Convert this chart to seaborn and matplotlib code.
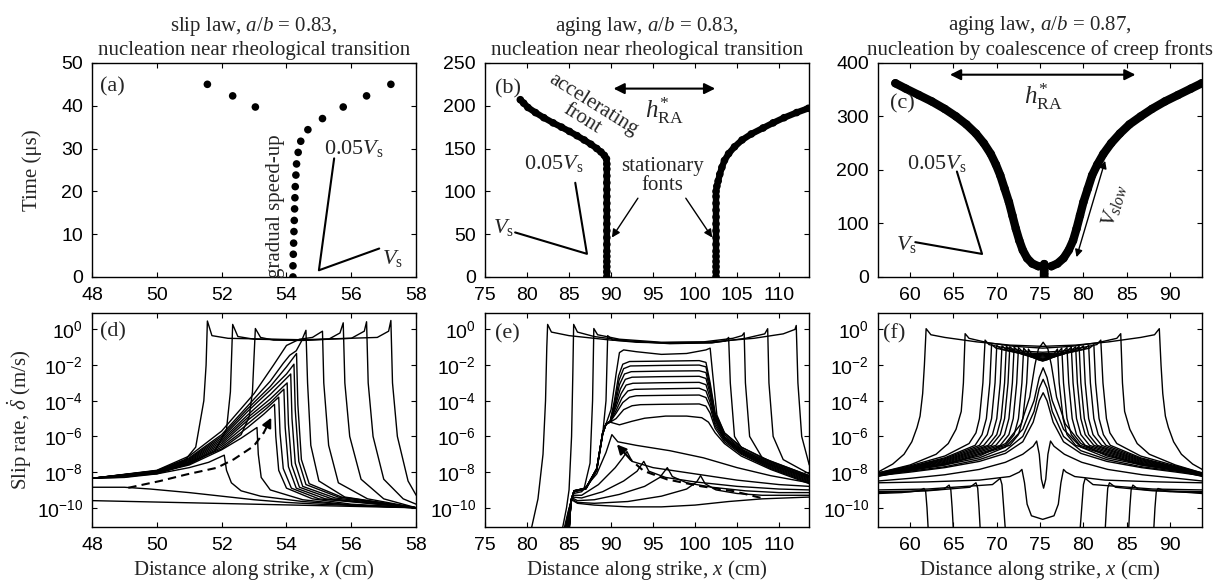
import numpy as np
import pandas as pd
import matplotlib
matplotlib.use("Agg")
import matplotlib.pyplot as plt
import seaborn as sns
from matplotlib.ticker import FixedLocator, FixedFormatter, NullLocator

# ---------------- data ----------------
# (a) slip law: rupture-front time vs position
a_x = [54.20, 54.20, 54.21, 54.22, 54.23, 54.24, 54.25, 54.26, 54.27, 54.29, 54.31, 54.36,
       54.44, 54.66, 55.11, 55.75, 56.47, 57.22, 53.04, 52.34, 51.56]
a_t = [0.0, 2.6, 5.3, 7.9, 10.6, 13.2, 15.9, 18.5, 21.1, 23.8, 26.4, 29.1,
       31.7, 34.4, 37.0, 39.7, 42.3, 45.0, 39.7, 42.3, 45.0]

# (b) aging law a/b=0.83: two fronts
b_left_t = [0, 6, 12, 18, 24, 30, 38, 46, 54, 62, 70, 78, 86, 94, 102, 110, 118, 126, 132, 138,
            142, 146, 150, 155, 160, 165, 170, 175, 180, 186, 192, 198, 203, 207]
b_left_x = [89.5, 89.5, 89.5, 89.5, 89.5, 89.5, 89.5, 89.5, 89.5, 89.5, 89.5, 89.5, 89.5, 89.5,
            89.5, 89.5, 89.5, 89.5, 89.5, 89.45,
            89.2, 88.8, 88.3, 87.6, 86.8, 85.95, 85.05, 84.1, 83.1, 82.0, 81.0, 80.1, 79.6, 79.2]
b_right_t = [0, 6, 12, 18, 24, 30, 38, 46, 54, 62, 70, 78, 86, 94, 100,
             106, 112, 120, 128, 136, 144, 152, 160, 167, 174, 180, 186, 192, 197]
b_right_x = [102.5, 102.5, 102.5, 102.5, 102.5, 102.5, 102.5, 102.5, 102.5, 102.5, 102.5, 102.5,
             102.5, 102.5, 102.5,
             102.6, 102.75, 102.95, 103.2, 103.5, 104.0, 104.7, 105.6, 106.7, 108.1, 109.3,
             110.6, 112.1, 113.5]

# (c) aging law a/b=0.87: coalescence of creep fronts
c_left_x = [58.3, 59.5, 61.0, 62.5, 64.0, 65.3, 66.5, 67.6, 68.5, 69.3, 69.9, 70.4, 70.9, 71.4,
            71.8, 72.2, 72.6, 73.0, 73.5, 74.1, 74.8]
c_left_t = [362, 352, 340, 328, 314, 300, 285, 268, 250, 230, 210, 190, 165, 140,
            115, 90, 68, 50, 35, 25, 20]
c_right_x = [93.65, 92.4, 90.9, 89.4, 87.9, 86.6, 85.3, 84.2, 83.2, 82.3, 81.6, 81.0, 80.5, 80.0,
             79.6, 79.2, 78.8, 78.3, 77.7, 77.0, 76.3]
c_right_t = [362, 352, 340, 328, 314, 300, 285, 268, 250, 230, 210, 190, 165, 140,
             115, 90, 68, 50, 35, 25, 20]
c_mid_x = [75.5, 75.5, 75.5, 75.5, 75.5]
c_mid_t = [0, 6, 12, 18, 24]

# (d) slip-rate profiles, slip law: (x [cm], log10 slip rate [m/s])
d_curves = [
    [(48, -9.6), (50, -9.68), (52, -9.76), (54, -9.84), (56, -9.92), (58, -10.0)],
    [(48, -8.85), (49, -8.85), (49.8, -8.95), (51, -9.15), (52, -9.35), (53, -9.55), (54, -9.7),
     (55, -9.8), (56.5, -9.9), (58, -10.0)],
    [(48, -8.35), (49, -8.3), (50, -8.1), (51, -7.75), (51.6, -7.45), (52.08, -7.05), (52.15, -7.9),
     (52.3, -8.6), (52.6, -9.05), (53.2, -9.35), (54.5, -9.65), (56, -9.85), (58, -10.0)],
    [(48, -8.35), (49, -8.28), (50, -8.05), (51, -7.6), (52, -6.75), (52.6, -6.1), (53.09, -5.5),
     (53.13, -7.0), (53.22, -8.3), (53.5, -9.0), (54.5, -9.55), (56, -9.85), (58, -10.0)],
    [(48, -8.35), (50, -8.02), (51, -7.55), (52, -6.6), (52.8, -5.5), (53.3, -4.75), (53.63, -4.2),
     (53.67, -6.0), (53.76, -7.9), (54.0, -8.9), (54.8, -9.5), (56, -9.8), (58, -10.0)],
    [(48, -8.35), (50, -8.0), (51, -7.5), (52, -6.5), (52.8, -5.3), (53.4, -4.4), (53.76, -3.8),
     (53.8, -5.8), (53.9, -7.8), (54.15, -8.9), (55, -9.5), (58, -10.0)],
    [(48, -8.35), (50, -7.98), (51, -7.45), (52, -6.4), (52.8, -5.1), (53.5, -4.1), (53.92, -3.35),
     (53.96, -5.5), (54.06, -7.7), (54.3, -8.9), (55.2, -9.5), (58, -10.0)],
    [(48, -8.35), (50, -7.96), (51, -7.4), (52, -6.3), (52.8, -4.95), (53.5, -3.9), (54.02, -3.0),
     (54.06, -5.3), (54.16, -7.6), (54.4, -8.85), (55.4, -9.5), (58, -10.0)],
    [(48, -8.35), (50, -7.95), (51, -7.35), (52, -6.2), (52.8, -4.8), (53.5, -3.65), (54.13, -2.5),
     (54.17, -5.0), (54.27, -7.5), (54.5, -8.8), (55.5, -9.45), (58, -10.0)],
    [(48, -8.35), (50, -7.94), (51, -7.3), (52, -6.1), (52.8, -4.6), (53.5, -3.4), (54.0, -2.5),
     (54.23, -1.95), (54.27, -4.5), (54.38, -7.4), (54.6, -8.7), (55.6, -9.4), (58, -10.0)],
    [(48, -8.35), (50, -7.93), (51, -7.25), (52, -6.0), (52.8, -4.45), (53.5, -3.2), (54.0, -2.1),
     (54.31, -1.35), (54.35, -4.2), (54.46, -7.3), (54.7, -8.65), (55.7, -9.4), (58, -10.0)],
    [(48, -8.35), (50, -7.92), (51, -7.2), (52, -5.9), (52.8, -4.3), (53.5, -2.9), (53.9, -1.9),
     (54.1, -1.45), (54.3, -1.2), (54.45, -0.7), (54.6, -0.05), (54.65, -3.0), (54.75, -6.5),
     (55.0, -8.5), (55.8, -9.4), (58, -10.0)],
    [(48, -8.35), (50, -7.9), (51, -7.1), (52, -5.7), (53, -3.6), (53.6, -2.0), (54.0, -0.9),
     (54.4, -0.55), (54.8, -0.45), (55.11, -0.1), (55.15, -3.0), (55.3, -6.5), (55.6, -8.6),
     (56.5, -9.5), (58, -10.0)],
    [(48, -8.35), (50, -8.0), (51, -7.45), (52, -6.7), (52.6, -5.9), (52.85, -4.9), (52.95, -3.5),
     (53.0, -1.5), (53.04, 0.05), (53.2, -0.45), (53.6, -0.6), (54.5, -0.62), (55.3, -0.55),
     (55.65, -0.2), (55.75, 0.37), (55.8, -3.0), (55.95, -6.0), (56.3, -8.4), (57, -9.5), (58, -10.0)],
    [(48, -8.35), (50, -8.05), (51, -7.55), (51.8, -6.8), (52.15, -5.6), (52.27, -3.5),
     (52.34, 0.28), (52.5, -0.4), (53, -0.55), (54.5, -0.6), (56, -0.5), (56.4, -0.1),
     (56.47, 0.43), (56.52, -3.0), (56.67, -6.0), (57.0, -8.4), (57.6, -9.5), (58, -9.8)],
    [(48, -8.35), (50, -8.1), (50.7, -7.7), (51.2, -6.6), (51.45, -4.0), (51.52, -2.0),
     (51.56, 0.47), (51.7, -0.35), (52.2, -0.5), (54.5, -0.58), (56.8, -0.45), (57.15, -0.1),
     (57.22, 0.5), (57.27, -3.0), (57.42, -6.0), (57.75, -8.5), (58, -9.3)],
]
d_dash = [(49.12, -8.88), (50.1, -8.5), (50.92, -8.13), (51.85, -7.76), (52.37, -7.29),
          (52.99, -6.54), (53.3, -5.79), (53.53, -4.95)]

# (e) slip-rate profiles, aging law a/b=0.83
e_curves = [
    [(84.4, -11.2), (84.9, -10.2), (85.3, -9.55), (86, -9.75), (88, -9.85), (92, -9.95), (96, -9.95),
     (100, -9.85), (104, -9.65), (108, -9.5), (113.6, -9.4)],
    [(84.5, -11.2), (85.0, -10.1), (85.35, -9.5), (86, -9.7), (88, -9.75), (92, -9.65), (96, -9.35),
     (99, -8.95), (100.2, -8.55), (100.66, -8.2), (101.2, -8.65), (102.5, -9.0), (105, -9.2),
     (108, -9.3), (113.6, -9.3)],
    [(84.6, -11.2), (85.05, -10.0), (85.4, -9.45), (86, -9.6), (88, -9.55), (91, -9.25), (94, -8.8),
     (95.8, -8.3), (96.7, -7.75), (97.3, -8.25), (99, -8.6), (102, -8.85), (106, -9.05),
     (110, -9.15), (113.6, -9.15)],
    [(84.7, -11.2), (85.1, -9.9), (85.45, -9.4), (86.5, -9.45), (89, -9.1), (91.5, -8.5),
     (93.1, -7.95), (93.9, -7.4), (94.5, -7.95), (96.5, -8.3), (100, -8.55), (105, -8.8),
     (110, -8.95), (113.6, -9.0)],
    [(84.8, -11.2), (85.15, -9.8), (85.5, -9.3), (86.5, -9.3), (88.5, -8.7), (90.5, -7.75),
     (91.4, -7.2), (91.9, -6.85), (92.5, -7.4), (95, -7.75), (100, -8.1), (105, -8.45),
     (110, -8.7), (113.6, -8.8)],
    [(84.9, -11.2), (85.2, -9.7), (85.55, -9.2), (86.5, -9.1), (88.3, -8.1), (89.4, -6.9),
     (90.1, -5.9), (90.8, -6.3), (93, -6.5), (97, -6.8), (101, -7.2), (105, -7.75), (109, -8.2),
     (113.6, -8.6)],
    # plateau curves
    [(85.0, -11.2), (85.22, -9.6), (85.6, -9.05), (87.0, -8.9), (88.3, -7.8), (89.0, -5.8),
     (89.4, -5.3), (89.9, -5.2), (91, -5.35), (92.5, -5.15), (94, -4.98), (96.5, -4.86),
     (99, -4.86), (100.8, -4.95), (101.6, -5.2), (102.4, -5.8), (103.5, -6.4), (105.5, -7.1),
     (109, -7.85), (113.6, -8.65)],
    [(85.02, -11.2), (85.23, -9.6), (85.6, -9.07), (87.0, -8.92), (88.3, -7.85), (89.0, -5.85),
     (89.4, -5.32), (89.9, -5.2), (90.6, -5.0), (91.5, -4.5), (92.5, -4.28), (93.5, -4.22),
     (96, -4.2), (100.5, -4.18), (101.3, -4.3), (101.8, -4.7), (102.4, -5.55), (103.5, -6.3),
     (105.5, -7.0), (109, -7.8), (113.6, -8.6)],
    [(85.0, -11.2), (85.24, -9.6), (85.6, -9.04), (87.0, -8.9), (88.3, -7.82), (89.0, -5.82),
     (89.4, -5.31), (89.9, -5.18), (90.6, -4.7), (91.4, -4.1), (92.2, -3.8), (93, -3.72),
     (96, -3.7), (100.5, -3.68), (101.3, -3.82), (101.8, -4.35), (102.4, -5.4), (103.5, -6.2),
     (105.5, -6.95), (109, -7.75), (113.6, -8.55)],
    [(85.03, -11.2), (85.22, -9.6), (85.6, -9.06), (87.0, -8.93), (88.3, -7.84), (89.0, -5.84),
     (89.4, -5.33), (89.9, -5.17), (90.6, -4.55), (91.3, -3.85), (92.0, -3.45), (92.8, -3.36),
     (96, -3.33), (100.5, -3.3), (101.3, -3.45), (101.8, -4.1), (102.4, -5.25), (103.5, -6.15),
     (105.5, -6.9), (109, -7.7), (113.6, -8.5)],
    [(85.01, -11.2), (85.23, -9.6), (85.6, -9.05), (87.0, -8.91), (88.3, -7.81), (89.0, -5.81),
     (89.4, -5.3), (89.9, -5.16), (90.55, -4.4), (91.2, -3.6), (91.8, -3.12), (92.6, -3.02),
     (96, -2.99), (100.5, -2.97), (101.3, -3.1), (101.8, -3.85), (102.4, -5.1), (103.5, -6.1),
     (105.5, -6.85), (109, -7.65), (113.6, -8.45)],
    [(85.02, -11.2), (85.24, -9.6), (85.6, -9.07), (87.0, -8.92), (88.3, -7.83), (89.0, -5.83),
     (89.4, -5.32), (89.9, -5.15), (90.5, -4.3), (91.1, -3.35), (91.7, -2.8), (92.5, -2.68),
     (96, -2.65), (100.5, -2.63), (101.3, -2.75), (101.8, -3.6), (102.4, -5.0), (103.5, -6.05),
     (105.5, -6.8), (109, -7.6), (113.6, -8.4)],
    [(85.0, -11.2), (85.22, -9.6), (85.6, -9.05), (87.0, -8.9), (88.3, -7.8), (89.0, -5.8),
     (89.4, -5.3), (89.9, -5.15), (90.5, -4.2), (91.0, -3.1), (91.6, -2.5), (92.4, -2.37),
     (96, -2.34), (100.5, -2.32), (101.3, -2.42), (101.8, -3.4), (102.4, -4.9), (103.5, -6.0),
     (105.5, -6.75), (109, -7.55), (113.6, -8.35)],
    [(85.02, -11.2), (85.23, -9.6), (85.6, -9.07), (87.0, -8.92), (88.3, -7.85), (89.0, -5.85),
     (89.4, -5.32), (89.9, -5.15), (90.45, -4.1), (90.95, -2.85), (91.5, -2.2), (92.3, -2.05),
     (96, -2.02), (100.5, -2.0), (101.3, -2.1), (101.8, -3.2), (102.4, -4.8), (103.5, -5.9),
     (105.5, -6.7), (109, -7.5), (113.6, -8.3)],
    [(85.0, -11.2), (85.22, -9.6), (85.6, -9.05), (87.0, -8.9), (88.3, -7.8), (89.0, -5.8),
     (89.4, -5.3), (89.9, -5.15), (90.4, -4.0), (90.9, -2.6), (91.4, -1.95), (92.2, -1.8),
     (96, -1.78), (100.5, -1.75), (101.3, -1.85), (101.8, -3.0), (102.4, -4.7), (103.5, -5.8),
     (105.5, -6.6), (109, -7.45), (113.6, -8.25)],
    # bowl curve
    [(85.0, -11.2), (85.25, -9.6), (85.6, -9.1), (87, -8.95), (88.3, -7.9), (89.0, -5.9),
     (89.4, -5.3), (90.0, -4.5), (90.6, -2.5), (91.0, -1.3), (91.5, -1.15), (93, -1.25),
     (96, -1.4), (99, -1.35), (101.3, -1.15), (101.8, -1.05), (102.1, -2.5), (102.6, -4.8),
     (103.5, -5.8), (105.5, -6.6), (109, -7.4), (113.6, -8.2)],
    # rupture curves
    [(85.0, -11.2), (85.25, -9.6), (85.6, -9.1), (87, -8.95), (88.3, -7.9), (89.0, -5.9),
     (89.4, -4.0), (89.6, -0.35), (90.2, -0.6), (93, -0.72), (98, -0.78), (102, -0.75),
     (103.6, -0.65), (104.0, -0.45), (104.2, -3.0), (104.7, -6.0), (106, -7.0), (109, -7.6),
     (113.6, -8.3)],
    [(85.0, -11.2), (85.25, -9.6), (85.6, -9.1), (86.8, -8.9), (87.5, -7.5), (87.8, -4.0),
     (87.95, 0.05), (88.4, -0.3), (91, -0.55), (96, -0.72), (101, -0.7), (104.5, -0.5),
     (105.6, -0.35), (105.85, -0.19), (106.0, -3.0), (106.5, -6.0), (108, -7.2), (113.6, -8.2)],
    [(84.2, -11.2), (84.7, -10.0), (85.0, -9.0), (85.3, -6.0), (85.45, -2.5), (85.55, 0.28),
     (86, -0.15), (88, -0.4), (92, -0.65), (97, -0.8), (102, -0.75), (106, -0.5), (108.3, -0.25),
     (108.65, 0.04), (108.8, -3.0), (109.3, -6.0), (110.5, -7.3), (113.6, -8.1)],
    [(80.5, -11.2), (81.3, -9.5), (81.9, -7.0), (82.2, -4.0), (82.35, -1.0), (82.45, 0.28),
     (82.9, -0.15), (85, -0.35), (90, -0.6), (96, -0.75), (102, -0.7), (107, -0.5),
     (110.5, -0.25), (111.9, 0.0), (112.05, 0.22), (112.25, -3.0), (112.7, -6.0), (113.6, -7.6)],
]
e_dash = [(107.8, -9.44), (104.6, -9.07), (100.66, -8.79), (96.68, -8.41), (93.9, -7.94),
          (92.3, -7.29), (90.7, -6.45)]

# (f) slip-rate profiles, aging law a/b=0.87
f_curves = [
    [(56.3, -9.2), (59, -9.15), (61.0, -9.05), (61.6, -8.92), (61.8, -9.1), (61.95, -10.0),
     (62.1, -11.3), (75, -13), (88.1, -11.3), (88.25, -10.0), (88.4, -9.1), (88.6, -8.92),
     (89.5, -9.05), (93.7, -9.2)],
    [(56.3, -9.15), (60, -9.1), (63.9, -8.95), (64.5, -8.73), (64.7, -9.0), (64.85, -10.0),
     (65.0, -11.3), (75, -13), (85.2, -11.3), (85.35, -10.0), (85.5, -9.0), (85.7, -8.73),
     (86.3, -8.95), (90, -9.1), (93.7, -9.15)],
    [(56.3, -9.1), (62, -9.05), (66.9, -8.85), (67.6, -8.6), (67.8, -8.9), (67.95, -10.0),
     (68.1, -11.3), (75, -13), (82.5, -11.3), (82.65, -10.0), (82.8, -8.9), (83.0, -8.6),
     (83.7, -8.85), (88, -9.05), (93.7, -9.1)],
    [(56.3, -9.0), (62, -8.95), (69.5, -8.7), (70.4, -8.35), (70.6, -8.7), (70.8, -10.0),
     (71.0, -11.3), (75, -13), (79.6, -11.3), (79.8, -10.0), (80.0, -8.7), (80.2, -8.35),
     (81.1, -8.7), (88, -8.95), (93.7, -9.0)],
    [(56.3, -8.6), (62, -8.55), (68, -8.45), (71.5, -8.25), (72.6, -8.0), (72.9, -7.85),
     (73.2, -8.6), (73.5, -9.8), (74.0, -10.45), (75.3, -10.65), (76.6, -10.45), (77.1, -9.8),
     (77.4, -8.6), (77.7, -7.85), (78.0, -8.0), (79, -8.25), (82.5, -8.45), (88.5, -8.55),
     (93.7, -8.6)],
    [(56.3, -8.5), (60, -8.35), (64, -8.15), (68, -7.85), (71, -7.45), (73, -7.0), (74.2, -6.55),
     (74.6, -6.26), (74.9, -7.0), (75.15, -8.4), (75.4, -8.9), (75.65, -8.4), (75.9, -7.0),
     (76.2, -6.26), (76.6, -6.55), (77.8, -7.0), (79.8, -7.45), (82.8, -7.85), (86.8, -8.15),
     (90.8, -8.35), (93.7, -8.5)],
    [(56.3, -8.2), (60, -8.0), (64, -7.75), (68, -7.4), (71, -6.95), (73, -6.3), (74.2, -5.2),
     (74.9, -4.0), (75.35, -3.55), (75.8, -4.0), (76.5, -5.2), (77.7, -6.3), (79.7, -6.95),
     (82.7, -7.4), (86.7, -7.75), (90.7, -8.0), (93.7, -8.2)],
    [(56.3, -8.15), (60, -7.95), (64, -7.7), (68, -7.3), (71, -6.8), (73, -6.0), (74.3, -4.6),
     (74.9, -3.3), (75.35, -2.8), (75.8, -3.3), (76.4, -4.6), (77.7, -6.0), (79.7, -6.8),
     (82.7, -7.3), (86.7, -7.7), (90.7, -7.95), (93.7, -8.15)],
    [(56.3, -8.1), (60, -7.9), (64, -7.6), (68, -7.2), (71, -6.6), (73, -5.6), (74.3, -4.0),
     (74.9, -2.7), (75.35, -2.15), (75.8, -2.7), (76.4, -4.0), (77.7, -5.6), (79.7, -6.6),
     (82.7, -7.2), (86.7, -7.6), (90.7, -7.9), (93.7, -8.1)],
    [(56.3, -8.05), (60, -7.85), (64, -7.55), (68, -7.1), (71, -6.4), (72.8, -5.3), (73.8, -3.8),
     (74.4, -2.0), (74.8, -1.1), (75.35, -0.72), (75.9, -1.1), (76.3, -2.0), (76.9, -3.8),
     (77.9, -5.3), (79.7, -6.4), (82.7, -7.1), (86.7, -7.55), (90.7, -7.85), (93.7, -8.05)],
    # rupture curves, two fronts each
    [(56.3, -8.0), (58, -7.55), (59.3, -7.0), (60.2, -6.3), (60.8, -5.5), (61.15, -4.86),
     (61.45, -3.6), (61.65, -2.0), (61.85, 0.04), (62.4, -0.3), (64, -0.45), (67.7, -0.7),
     (71.5, -0.88), (75.3, -0.95), (79.1, -0.88), (82.9, -0.7), (86.6, -0.45), (88.2, -0.3),
     (88.75, 0.04), (88.95, -2.0), (89.15, -3.6), (89.45, -4.86), (89.8, -5.5), (90.4, -6.3),
     (91.3, -7.0), (92.6, -7.55), (93.7, -7.85)],
    [(56.3, -8.05), (60, -7.6), (63, -7.0), (64.4, -6.4), (65.3, -5.6), (65.9, -4.6), (66.15, -3.0),
     (66.35, -0.24), (66.8, -0.5), (69, -0.75), (72, -0.95), (75.3, -1.05), (78.6, -0.95),
     (81.6, -0.75), (83.85, -0.5), (84.3, -0.24), (84.5, -3.0), (84.75, -4.6), (85.35, -5.6),
     (86.2, -6.4), (87.6, -7.0), (90.6, -7.6), (93.7, -8.05)],
    [(56.3, -8.05), (60, -7.65), (64, -7.1), (66.8, -6.4), (67.6, -5.8), (68.0, -5.0), (68.4, -3.0),
     (68.65, -0.6), (69.1, -0.85), (71, -1.05), (73, -1.22), (75.3, -1.28), (77.6, -1.22),
     (79.6, -1.05), (81.55, -0.85), (82.0, -0.6), (82.25, -3.0), (82.65, -5.0), (83.05, -5.8),
     (83.85, -6.4), (86.6, -7.1), (90.6, -7.65), (93.7, -8.05)],
    [(56.3, -8.1), (60, -7.7), (64, -7.2), (67.5, -6.5), (68.3, -5.9), (68.8, -5.0), (69.2, -3.0),
     (69.4, -0.85), (69.9, -1.05), (71.5, -1.22), (73.3, -1.32), (75.3, -1.36), (77.3, -1.32),
     (79.1, -1.22), (80.7, -1.05), (81.2, -0.85), (81.4, -3.0), (81.8, -5.0), (82.3, -5.9),
     (83.1, -6.5), (86.6, -7.2), (90.6, -7.7), (93.7, -8.1)],
    [(56.3, -8.1), (60, -7.72), (64, -7.25), (68, -6.5), (68.9, -5.9), (69.4, -5.0), (69.8, -3.0),
     (70.0, -0.9), (70.5, -1.1), (72.0, -1.28), (73.6, -1.38), (75.3, -1.42), (77.0, -1.38),
     (78.6, -1.28), (80.1, -1.1), (80.6, -0.9), (80.8, -3.0), (81.2, -5.0), (81.7, -5.9),
     (82.6, -6.5), (86.6, -7.25), (90.6, -7.72), (93.7, -8.1)],
    [(56.3, -8.12), (60, -7.75), (64, -7.3), (68.5, -6.5), (69.5, -5.9), (70.0, -5.0), (70.4, -3.0),
     (70.6, -0.92), (71.1, -1.12), (72.4, -1.32), (73.9, -1.44), (75.3, -1.48), (76.7, -1.44),
     (78.2, -1.32), (79.5, -1.12), (80.0, -0.92), (80.2, -3.0), (80.6, -5.0), (81.1, -5.9),
     (82.1, -6.5), (86.6, -7.3), (90.6, -7.75), (93.7, -8.12)],
    [(56.3, -8.14), (60, -7.78), (64, -7.35), (69, -6.5), (70.0, -5.9), (70.5, -5.0), (70.9, -3.0),
     (71.1, -0.95), (71.6, -1.15), (72.8, -1.37), (74.1, -1.5), (75.3, -1.54), (76.5, -1.5),
     (77.8, -1.37), (79.0, -1.15), (79.5, -0.95), (79.7, -3.0), (80.1, -5.0), (80.6, -5.9),
     (81.6, -6.5), (86.6, -7.35), (90.6, -7.78), (93.7, -8.14)],
    [(56.3, -8.16), (60, -7.8), (64, -7.4), (69.4, -6.5), (70.4, -5.9), (70.9, -5.0), (71.3, -3.0),
     (71.5, -0.97), (72.0, -1.18), (73.1, -1.42), (74.2, -1.56), (75.3, -1.6), (76.4, -1.56),
     (77.5, -1.42), (78.6, -1.18), (79.1, -0.97), (79.3, -3.0), (79.7, -5.0), (80.2, -5.9),
     (81.2, -6.5), (86.6, -7.4), (90.6, -7.8), (93.7, -8.16)],
    [(56.3, -8.18), (60, -7.83), (64, -7.45), (69.9, -6.5), (70.9, -5.9), (71.4, -5.0), (71.8, -3.0),
     (72.0, -1.0), (72.5, -1.22), (73.5, -1.47), (74.4, -1.61), (75.3, -1.65), (76.2, -1.61),
     (77.1, -1.47), (78.1, -1.22), (78.6, -1.0), (78.8, -3.0), (79.2, -5.0), (79.7, -5.9),
     (80.7, -6.5), (86.6, -7.45), (90.6, -7.83), (93.7, -8.18)],
    [(56.3, -8.2), (60, -7.86), (64, -7.5), (70.4, -6.5), (71.4, -5.9), (71.9, -5.0), (72.3, -3.0),
     (72.5, -1.02), (73.0, -1.26), (73.9, -1.52), (74.6, -1.66), (75.3, -1.7), (76.0, -1.66),
     (76.7, -1.52), (77.6, -1.26), (78.1, -1.02), (78.3, -3.0), (78.7, -5.0), (79.2, -5.9),
     (80.2, -6.5), (86.6, -7.5), (90.6, -7.86), (93.7, -8.2)],
    [(56.3, -8.22), (60, -7.88), (64, -7.55), (71.0, -6.5), (72.0, -5.9), (72.5, -5.0),
     (72.9, -3.0), (73.1, -1.05), (73.6, -1.33), (74.3, -1.58), (74.8, -1.7), (75.3, -1.75),
     (75.8, -1.7), (76.3, -1.58), (77.0, -1.33), (77.5, -1.05), (77.7, -3.0), (78.1, -5.0),
     (78.6, -5.9), (79.6, -6.5), (86.6, -7.55), (90.6, -7.88), (93.7, -8.22)],
    [(56.3, -8.24), (60, -7.9), (64, -7.6), (71.5, -6.5), (72.5, -5.9), (73.0, -5.0),
     (73.45, -3.0), (73.65, -1.1), (74.1, -1.45), (74.7, -1.68), (75.3, -1.78), (75.9, -1.68),
     (76.5, -1.45), (77.0, -1.1), (77.2, -3.0), (77.65, -5.0), (78.1, -5.9), (79.1, -6.5),
     (86.6, -7.6), (90.6, -7.9), (93.7, -8.24)],
]

log_ticks = [0, -2, -4, -6, -8, -10]

# ---------------- style ----------------
sns.set_theme(style="ticks")
plt.rcParams.update({
    "font.family": ["Liberation Sans", "DejaVu Sans"],
    "mathtext.fontset": "custom",
    "mathtext.rm": "Liberation Serif",
    "mathtext.it": "Liberation Serif:italic",
    "mathtext.bf": "Liberation Serif:bold",
    "mathtext.sf": "Liberation Sans",
    "axes.linewidth": 1.0,
    "axes.edgecolor": "black",
    "axes.facecolor": "white",
    "xtick.color": "black", "ytick.color": "black",
    "xtick.direction": "in", "ytick.direction": "in",
    "xtick.top": True, "ytick.right": True,
    "xtick.major.size": 3.5, "ytick.major.size": 3.5,
    "xtick.major.width": 0.8, "ytick.major.width": 0.8,
    "xtick.minor.size": 0, "ytick.minor.size": 0,
    "xtick.labelsize": 14, "ytick.labelsize": 14,
    "xtick.major.pad": 7, "ytick.major.pad": 6.5,
})
SERIF = ["Liberation Serif", "DejaVu Serif"]
FS = 15

fig = plt.figure(figsize=(12.28, 5.88), dpi=100)
lefts = [0.0749, 0.395, 0.715]
W = 0.264
top_row = [fig.add_axes([l, 0.529, W, 0.364]) for l in lefts]
bot_row = [fig.add_axes([l, 0.104, W, 0.364]) for l in lefts]

titles = ["slip law, $a/b$ = 0.83,\nnucleation near rheological transition",
          "aging law, $a/b$ = 0.83,\nnucleation near rheological transition",
          "aging law, $a/b$ = 0.87,\nnucleation by coalescence of creep fronts"]
xlims = [(48, 58), (75, 113.6), (56.3, 93.7)]
xticks = [[48, 50, 52, 54, 56, 58], [75, 80, 85, 90, 95, 100, 105, 110], [60, 65, 70, 75, 80, 85, 90]]
ylims_top = [(0, 50), (0, 250), (0, 400)]
yticks_top = [[0, 10, 20, 30, 40, 50], [0, 50, 100, 150, 200, 250], [0, 100, 200, 300, 400]]

for i, ax in enumerate(top_row):
    ax.set_xlim(*xlims[i]); ax.set_ylim(*ylims_top[i])
    ax.set_xticks(xticks[i]); ax.set_yticks(yticks_top[i])
    ax.set_title(titles[i], fontfamily=SERIF, fontsize=FS, pad=6, linespacing=1.2)

# (a)
axa = top_row[0]
sns.scatterplot(x=a_x, y=a_t, color="black", s=30, edgecolor="none", ax=axa, legend=False)

# (b)
axb = top_row[1]
for xs, ts in [(b_left_x, b_left_t), (b_right_x, b_right_t)]:
    sns.lineplot(x=xs, y=ts, sort=False, estimator=None, color="black", linewidth=4.6,
                 solid_capstyle="round", ax=axb)
    sns.scatterplot(x=xs, y=ts, color="black", s=30, edgecolor="none", ax=axb, legend=False)

# (c)
axc = top_row[2]
for xs, ts in [(c_left_x, c_left_t), (c_right_x, c_right_t), (c_mid_x, c_mid_t)]:
    sns.lineplot(x=xs, y=ts, sort=False, estimator=None, color="black", linewidth=6.0,
                 solid_capstyle="round", solid_joinstyle="round", ax=axc)
    sns.scatterplot(x=xs, y=ts, color="black", s=36, edgecolor="none", ax=axc, legend=False)

for ax in top_row:
    ax.set_xlabel(""); ax.set_ylabel("")
axa.set_ylabel("Time (μs)", fontfamily=SERIF, fontsize=FS, labelpad=14)


def curves_df(curves):
    rows = []
    for i, c in enumerate(curves):
        for j, (x, lv) in enumerate(c):
            rows.append((i, j, x, 10.0 ** lv))
    return pd.DataFrame(rows, columns=["curve", "order", "x", "v"])


for i, (ax, curves) in enumerate(zip(bot_row, [d_curves, e_curves, f_curves])):
    ax.set_yscale("log")
    ax.set_xlim(*xlims[i])
    ax.set_ylim(10 ** -11.07, 10 ** 0.93)
    df = curves_df(curves)
    sns.lineplot(data=df, x="x", y="v", units="curve", estimator=None, sort=False,
                 color="black", linewidth=1.0, ax=ax, legend=False)
    ax.set_xticks(xticks[i])
    ax.yaxis.set_major_locator(FixedLocator([10.0 ** k for k in log_ticks]))
    ax.yaxis.set_major_formatter(FixedFormatter([r"$\mathsf{10^{%d}}$" % k for k in log_ticks]))
    ax.yaxis.set_minor_locator(NullLocator())
    ax.set_xlabel(r"Distance along strike, $x$ (cm)", fontfamily=SERIF, fontsize=FS, labelpad=3)
    ax.set_ylabel("")

bot_row[0].set_ylabel(r"Slip rate, $\dot{\delta}$ (m/s)", fontfamily=SERIF, fontsize=FS,
                      labelpad=2)

# dashed arrows
for ax, dash in [(bot_row[0], d_dash), (bot_row[1], e_dash)]:
    dx = [p[0] for p in dash]
    dv = [10.0 ** p[1] for p in dash]
    sns.lineplot(x=dx[:-1], y=dv[:-1], sort=False, estimator=None, color="black",
                 linewidth=1.5, linestyle=(0, (4, 2.5)), ax=ax)
    ax.annotate("", xy=(dx[-1], dv[-1]), xytext=(dx[-2], dv[-2]),
                arrowprops=dict(arrowstyle="-|>", color="black", lw=1.5, mutation_scale=14,
                                shrinkA=0, shrinkB=0))

# panel labels
for ax, lab, pos in [(top_row[0], "(a)", (0.025, 0.89)), (top_row[1], "(b)", (0.03, 0.88)),
                     (top_row[2], "(c)", (0.037, 0.81)), (bot_row[0], "(d)", (0.025, 0.91)),
                     (bot_row[1], "(e)", (0.03, 0.90)), (bot_row[2], "(f)", (0.016, 0.90))]:
    ax.text(pos[0], pos[1], lab, transform=ax.transAxes, fontfamily=SERIF, fontsize=16,
            ha="left", va="center")

VS = r"$V_{\mathrm{s}}$"
V05 = r"0.05$V_{\mathrm{s}}$"
HRA = r"$h^{*}_{\mathrm{RA}}$"
FA = FS + 1

# (a) annotations
axa.text(53.66, 16.5, "gradual speed-up", rotation=90, fontfamily=SERIF, fontsize=FS,
         ha="center", va="center")
axa.text(56.09, 30, V05, fontfamily=SERIF, fontsize=FA, ha="center", va="center")
axa.plot([55.47, 55.0, 56.86], [27.7, 1.56, 6.64], color="black", lw=1.5)
axa.text(57.28, 4.2, VS, fontfamily=SERIF, fontsize=FA, ha="center", va="center")

# (b) annotations
axb.text(87.85, 201, "accelerating", rotation=-32, fontfamily=SERIF, fontsize=FS,
         ha="center", va="center")
axb.text(86.6, 184, "front", rotation=-32, fontfamily=SERIF, fontsize=FS, ha="center", va="center")
axb.annotate("", xy=(102.4, 220), xytext=(90.3, 220),
             arrowprops=dict(arrowstyle="<|-|>", color="black", lw=1.5, mutation_scale=16,
                             shrinkA=0, shrinkB=0))
axb.text(96.3, 194, HRA, fontfamily=SERIF, fontsize=FS + 3, ha="center", va="center")
axb.text(83.15, 132, V05, fontfamily=SERIF, fontsize=FA, ha="center", va="center")
axb.plot([85.74, 87.13, 78.58], [110, 27, 52], color="black", lw=1.5)
axb.text(77.2, 58, VS, fontfamily=SERIF, fontsize=FA, ha="center", va="center")
axb.text(96.1, 118, "stationary\nfonts", fontfamily=SERIF, fontsize=FS, ha="center",
         va="center", linespacing=0.95)
axb.annotate("", xy=(90.1, 46), xytext=(93.2, 92),
             arrowprops=dict(arrowstyle="-|>", color="black", lw=1.0, mutation_scale=12,
                             shrinkA=0, shrinkB=0))
axb.annotate("", xy=(102.05, 46), xytext=(98.9, 92),
             arrowprops=dict(arrowstyle="-|>", color="black", lw=1.0, mutation_scale=12,
                             shrinkA=0, shrinkB=0))

# (c) annotations
axc.annotate("", xy=(86.0, 378), xytext=(64.6, 378),
             arrowprops=dict(arrowstyle="<|-|>", color="black", lw=1.5, mutation_scale=16,
                             shrinkA=0, shrinkB=0))
axc.text(75.4, 338, HRA, fontfamily=SERIF, fontsize=FS + 3, ha="center", va="center")
axc.text(63.1, 212, V05, fontfamily=SERIF, fontsize=FA, ha="center", va="center")
axc.plot([65.4, 68.3, 60.6], [197, 43, 65], color="black", lw=1.5)
axc.text(59.6, 60, VS, fontfamily=SERIF, fontsize=FA, ha="center", va="center")
axc.annotate("", xy=(82.5, 217), xytext=(79.2, 37),
             arrowprops=dict(arrowstyle="<|-|>", color="black", lw=1.0, mutation_scale=11,
                             shrinkA=0, shrinkB=0))
axc.text(83.5, 135, r"$V_{slow}$", rotation=74, fontfamily=SERIF, fontsize=FA,
         ha="center", va="center")

fig.savefig("out.png", dpi=100)
